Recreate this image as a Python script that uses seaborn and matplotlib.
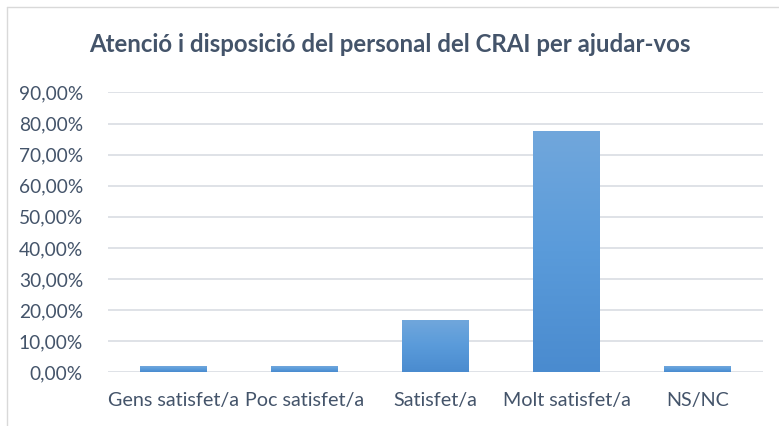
import numpy as np
import pandas as pd
import matplotlib
matplotlib.use('Agg')
import matplotlib.pyplot as plt
import seaborn as sns
from matplotlib.colors import LinearSegmentedColormap
from matplotlib.ticker import FuncFormatter
from matplotlib.lines import Line2D

# Data
categories = ['Gens satisfet/a', 'Poc satisfet/a', 'Satisfet/a', 'Molt satisfet/a', 'NS/NC']
percentages = [1.9, 1.9, 16.8, 77.6, 1.9]

df = pd.DataFrame({'Resposta': categories, 'Percentatge': percentages})

sns.set_style('white')
plt.rcParams['font.family'] = ['Lato', 'DejaVu Sans']

text_color = '#44546A'
grid_color = '#D9DDE3'

fig = plt.figure(figsize=(7.79, 4.26), dpi=100)
ax = fig.add_axes([108 / 779, 1 - 372.3 / 426, (763 - 108) / 779, (372.3 - 92.4) / 426])

sns.barplot(data=df, x='Resposta', y='Percentatge', order=categories,
            color='#5B9BD5', width=0.51, ax=ax, zorder=3)

# gradient fill like the Excel bars (lighter top, darker bottom)
cmap = LinearSegmentedColormap.from_list('bar', ['#4A8BCF', '#5A9BDA', '#71A7DC'])
grad = np.linspace(0, 1, 256).reshape(-1, 1)
for p in ax.patches:
    x0, y0 = p.get_x(), p.get_y()
    w, h = p.get_width(), p.get_height()
    p.set_facecolor('none')
    p.set_edgecolor('none')
    im = ax.imshow(grad, cmap=cmap, aspect='auto', origin='lower',
                   extent=[x0, x0 + w, y0, y0 + h], zorder=3)
    im.set_clip_path(p)

ax.set_xlim(-0.5, len(categories) - 0.5)
ax.set_ylim(0, 90)
ax.set_yticks(np.arange(0, 91, 10))
ax.yaxis.set_major_formatter(FuncFormatter(lambda v, _: f'{v:.2f}%'.replace('.', ',')))
ax.grid(axis='y', color=grid_color, linewidth=1.2, zorder=0)
ax.set_axisbelow(True)
for s in ax.spines.values():
    s.set_visible(False)
ax.tick_params(axis='x', length=0, labelsize=14.2, colors=text_color, pad=14)
ax.tick_params(axis='y', length=0, labelsize=13.8, colors=text_color, pad=18)
ax.set_xlabel('')
ax.set_ylabel('')

fig.text(0.5, 1 - 45 / 426, 'Atenció i disposició del personal del CRAI per ajudar-vos',
         ha='center', va='center', fontsize=17.3, fontweight='bold', color=text_color)

# chart frame (top and left edges visible)
fig.add_artist(Line2D([7 / 779, 7 / 779], [0, 1 - 7 / 426], transform=fig.transFigure,
                      color='#D9D9D9', linewidth=1))
fig.add_artist(Line2D([7 / 779, 1], [1 - 7 / 426, 1 - 7 / 426], transform=fig.transFigure,
                      color='#D9D9D9', linewidth=1))

fig.savefig('out.png', dpi=100)
